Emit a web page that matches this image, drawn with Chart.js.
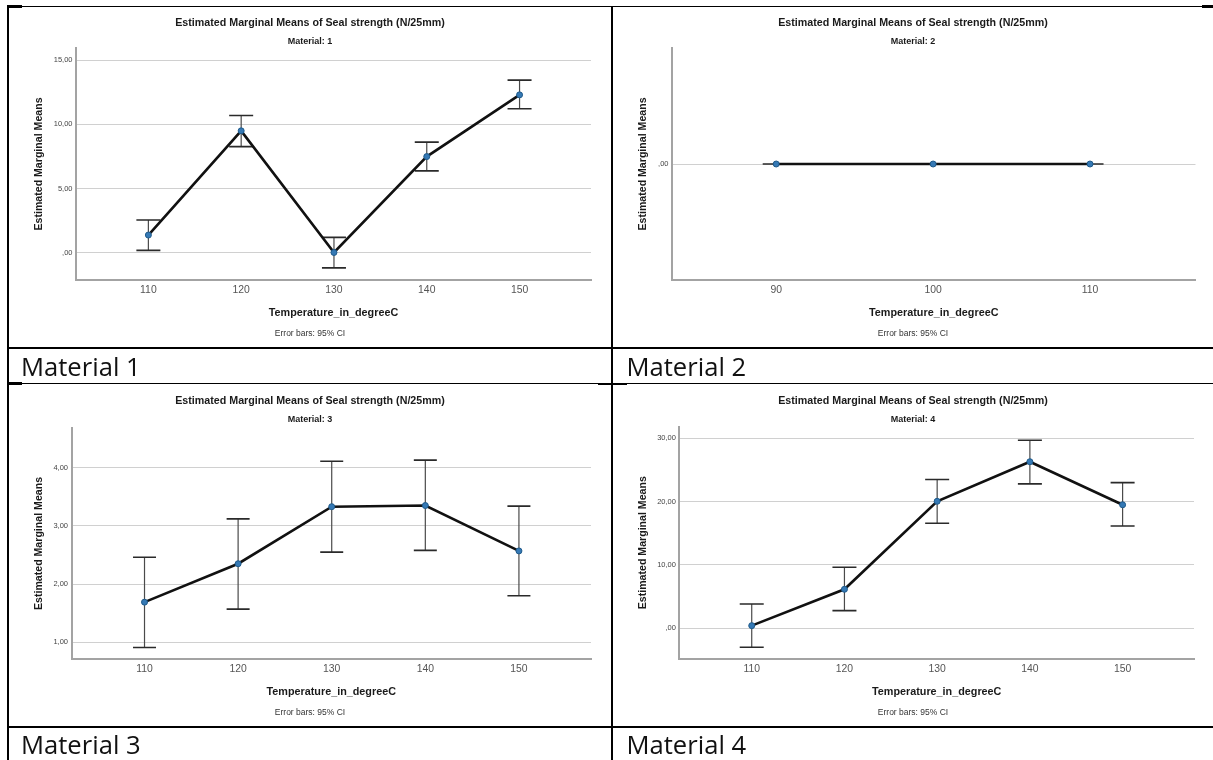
<!DOCTYPE html>
<html>
<head>
<meta charset="utf-8">
<script src="https://cdn.jsdelivr.net/npm/chart.js@4"></script>
<style>
  html, body { margin:0; padding:0; background:#fff; }
  #page { position:relative; width:1213px; height:760px; overflow:hidden; background:#fff; }
  .ln { position:absolute; background:#000; }
  canvas { position:absolute; }
  .cap { position:absolute; font-family:"Open Sans", sans-serif; font-size:25.6px; line-height:36px; color:#111; white-space:nowrap; }
</style>
</head>
<body>
<div id="page">
  <canvas id="c1" width="602" height="340" style="left:9px;top:7px;"></canvas>
  <canvas id="c2" width="600" height="340" style="left:613px;top:7px;"></canvas>
  <canvas id="c3" width="602" height="341" style="left:9px;top:385px;"></canvas>
  <canvas id="c4" width="600" height="341" style="left:613px;top:385px;"></canvas>

  <!-- table borders -->
  <div class="ln" style="left:7px;top:6px;width:1206px;height:1px;"></div>
  <div class="ln" style="left:7px;top:5px;width:15px;height:3px;"></div>
  <div class="ln" style="left:1202px;top:5px;width:11px;height:3px;"></div>
  <div class="ln" style="left:7px;top:5px;width:2px;height:755px;"></div>
  <div class="ln" style="left:611px;top:6px;width:2px;height:754px;"></div>
  <div class="ln" style="left:7px;top:347px;width:1206px;height:2px;"></div>
  <div class="ln" style="left:7px;top:383px;width:1206px;height:1px;"></div>
  <div class="ln" style="left:7px;top:382px;width:15px;height:3px;"></div>
  <div class="ln" style="left:598px;top:383px;width:29px;height:2px;"></div>
  <div class="ln" style="left:7px;top:726px;width:1206px;height:2px;"></div>

  <div class="cap" style="left:21px;top:348.8px;">Material 1</div>
  <div class="cap" style="left:626.5px;top:348.8px;">Material 2</div>
  <div class="cap" style="left:21px;top:727px;">Material 3</div>
  <div class="cap" style="left:626.5px;top:727px;">Material 4</div>
</div>

<script>
// ---------------- DATA ----------------
const temps1 = [110, 120, 130, 140, 150];
const mean1  = [1.36, 9.50, 0.00, 7.49, 12.31];
const lower1 = [0.16, 8.27, -1.20, 6.37, 11.22];
const upper1 = [2.54, 10.70, 1.18, 8.62, 13.46];
const yTicks1  = [0, 5, 10, 15];
const yLabels1 = [',00', '5,00', '10,00', '15,00'];

const temps2 = [90, 100, 110];
const mean2  = [0, 0, 0];
const lower2 = [0, 0, 0];
const upper2 = [0, 0, 0];
const yTicks2  = [0];
const yLabels2 = [',00'];

const temps3 = [110, 120, 130, 140, 150];
const mean3  = [1.69, 2.35, 3.33, 3.35, 2.57];
const lower3 = [0.91, 1.57, 2.55, 2.58, 1.80];
const upper3 = [2.46, 3.12, 4.11, 4.13, 3.34];
const yTicks3  = [1, 2, 3, 4];
const yLabels3 = ['1,00', '2,00', '3,00', '4,00'];

const temps4 = [110, 120, 130, 140, 150];
const mean4  = [0.42, 6.16, 20.05, 26.30, 19.50];
const lower4 = [-3.00, 2.79, 16.58, 22.80, 16.15];
const upper4 = [3.84, 9.63, 23.50, 29.70, 23.00];
const yTicks4  = [0, 10, 20, 30];
const yLabels4 = [',00', '10,00', '20,00', '30,00'];

const chartTitle = 'Estimated Marginal Means of Seal strength (N/25mm)';
const subTitles  = ['Material: 1', 'Material: 2', 'Material: 3', 'Material: 4'];
const xTitle = 'Temperature_in_degreeC';
const yTitle = 'Estimated Marginal Means';
const noteText = 'Error bars: 95% CI';

// ---------------- RENDERING ----------------
const FONT = '"Liberation Sans", Arial, sans-serif';
Chart.defaults.font.family = FONT;

const errorBarsPlugin = {
  id: 'errorBars',
  beforeDatasetsDraw(chart, args, opts) {
    const { ctx, scales: { x, y } } = chart;
    ctx.save();
    for (let i = 0; i < opts.xs.length; i++) {
      const px = x.getPixelForValue(opts.xs[i]);
      const pl = y.getPixelForValue(opts.lo[i]);
      const ph = y.getPixelForValue(opts.hi[i]);
      ctx.strokeStyle = '#4a4a4a';
      ctx.lineWidth = 1.2;
      ctx.beginPath();
      ctx.moveTo(px, ph); ctx.lineTo(px, pl);
      ctx.stroke();
      ctx.strokeStyle = '#2a2a2a';
      ctx.lineWidth = 1.6;
      ctx.beginPath();
      ctx.moveTo(px - opts.cap, ph); ctx.lineTo(px + opts.cap, ph);
      ctx.moveTo(px - opts.cap, pl); ctx.lineTo(px + opts.cap, pl);
      ctx.stroke();
    }
    ctx.restore();
  }
};

const textPlugin = {
  id: 'spssText',
  afterDraw(chart, args, opts) {
    const { ctx, chartArea: a, width } = chart;
    ctx.save();
    ctx.textAlign = 'center';
    ctx.textBaseline = 'middle';
    ctx.fillStyle = '#1a1a1a';
    ctx.font = 'bold 10.7px ' + FONT;
    ctx.fillText(chartTitle, width / 2, 15.7);
    ctx.font = 'bold 9px ' + FONT;
    ctx.fillText(opts.sub, width / 2, 34.5);
    ctx.font = 'bold 10.8px ' + FONT;
    ctx.fillText(xTitle, (a.left + a.right) / 2, a.bottom + 33);
    ctx.font = '8.5px ' + FONT;
    ctx.fillStyle = '#333';
    ctx.fillText(noteText, width / 2, a.bottom + 53.5);
    ctx.translate(30, (a.top + a.bottom) / 2);
    ctx.rotate(-Math.PI / 2);
    ctx.font = 'bold 10.6px ' + FONT;
    ctx.fillStyle = '#1a1a1a';
    ctx.fillText(yTitle, 0, 0);
    ctx.restore();
  }
};

function makeChart(id, temps, mean, lower, upper, yTicks, yLabels, sub, L) {
  const canvas = document.getElementById(id);
  const W = canvas.width, H = canvas.height;
  return new Chart(canvas, {
    type: 'line',
    data: {
      datasets: [{
        data: temps.map((t, i) => ({ x: t, y: mean[i] })),
        borderColor: '#111',
        borderWidth: 2.6,
        tension: 0,
        pointRadius: 3,
        pointBorderWidth: 1,
        pointBackgroundColor: '#3579b5',
        pointBorderColor: '#1f5a8a',
        clip: false
      }]
    },
    options: {
      responsive: false,
      animation: false,
      devicePixelRatio: 1,
      layout: { padding: { left: 0, right: W - L.right, top: L.top, bottom: H - L.bottom - 22 } },
      plugins: {
        legend: { display: false },
        tooltip: { enabled: false },
        errorBars: { xs: temps, lo: lower, hi: upper, cap: L.cap },
        spssText: { sub: sub }
      },
      scales: {
        x: {
          type: 'linear',
          min: L.xmin, max: L.xmax,
          afterBuildTicks: s => { s.ticks = temps.map(v => ({ value: v })); },
          afterFit: s => { s.height = 22; },
          grid: { display: false, drawTicks: false },
          border: { display: true, color: '#a3a3a3', width: 2 },
          ticks: {
            padding: 4,
            color: '#555',
            font: { size: 10.4 },
            maxRotation: 0,
            callback: v => String(v)
          }
        },
        y: {
          type: 'linear',
          min: L.ymin, max: L.ymax,
          afterBuildTicks: s => { s.ticks = yTicks.map(v => ({ value: v })); },
          afterFit: s => { s.width = L.axisX; },
          grid: { display: true, color: '#d0d0d0', lineWidth: 1, drawTicks: false },
          border: { display: true, color: '#a3a3a3', width: 2 },
          ticks: {
            padding: 3.5,
            color: '#444',
            font: { size: 7.5 },
            callback: v => { const k = yTicks.indexOf(v); return k >= 0 ? yLabels[k] : ''; }
          }
        }
      }
    },
    plugins: [errorBarsPlugin, textPlugin]
  });
}

makeChart('c1', temps1, mean1, lower1, upper1, yTicks1, yLabels1, subTitles[0],
  { axisX: 67, right: 582, top: 41, bottom: 273, xmin: 102.2, xmax: 157.7, ymin: -2.15, ymax: 15.97, cap: 12 });
makeChart('c2', temps2, mean2, lower2, upper2, yTicks2, yLabels2, subTitles[1],
  { axisX: 59, right: 582.5, top: 41, bottom: 273, xmin: 83.36, xmax: 116.72, ymin: -1, ymax: 1, cap: 13.5 });
makeChart('c3', temps3, mean3, lower3, upper3, yTicks3, yLabels3, subTitles[2],
  { axisX: 62.5, right: 582, top: 42.7, bottom: 274.3, xmin: 102.2, xmax: 157.7, ymin: 0.708, ymax: 4.687, cap: 11.5 });
makeChart('c4', temps4, mean4, lower4, upper4, yTicks4, yLabels4, subTitles[3],
  { axisX: 66.4, right: 581, top: 41.7, bottom: 273.7, xmin: 102.2, xmax: 157.7, ymin: -4.8, ymax: 31.83, cap: 12 });
</script>
</body>
</html>
